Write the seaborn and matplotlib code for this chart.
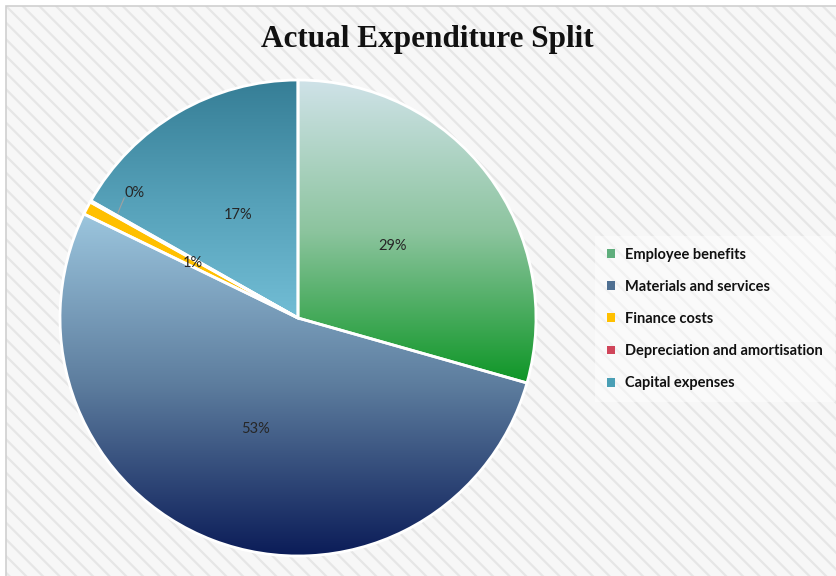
import numpy as np
import matplotlib
matplotlib.use("Agg")
import matplotlib.pyplot as plt
import seaborn as sns
from matplotlib.patches import Rectangle, Patch
from matplotlib.colors import to_rgb

# ---- data ----
categories = ["Employee benefits", "Materials and services", "Finance costs",
              "Depreciation and amortisation", "Capital expenses"]
values = [29.4, 52.8, 0.9, 0.1, 16.8]
title = "Actual Expenditure Split"

# gradient (top, bottom) colours per wedge, and legend colours
grad_top = ["#cfe2e8", "#9cc6de", "#ffc000", "#e04a5a", "#367e96"]
grad_mid = ["#8cc49e", "#5d7d9e", "#ffc000", "#d0455a", "#55a0b8"]
grad_bot = ["#0e9626", "#0b1c58", "#ffc000", "#c0394c", "#72bdd5"]
legend_colors = ["#5fae7c", "#4f7092", "#ffc000", "#d0455a", "#4a9fb5"]

sns.set_theme(style="white")
plt.rcParams["hatch.linewidth"] = 1.6

W, H = 836, 576
fig = plt.figure(figsize=(W / 100, H / 100), dpi=100)
fig.patch.set_facecolor("white")

# hatched chart-area background with thin border
bg = Rectangle((6 / W, -0.01), 1.02, 1 - 6 / H + 0.01, transform=fig.transFigure,
               facecolor="#f7f7f7", edgecolor="#e6e6e6", hatch="\\\\",
               linewidth=0, zorder=-2)
fig.add_artist(bg)
border = Rectangle((6 / W, -0.01), 1.02, 1 - 6 / H + 0.01, transform=fig.transFigure,
                   facecolor="none", edgecolor="#d0d0d0", linewidth=1.2, zorder=-1)
fig.add_artist(border)

cx, cy, R = 298, 318, 238
ax = fig.add_axes([(cx - R) / W, (H - cy - R) / H, 2 * R / W, 2 * R / H])
ax.set_facecolor("none")

wedges, texts, autotexts = ax.pie(
    values, startangle=90, counterclock=False,
    autopct=lambda p: f"{p:.0f}%", pctdistance=0.5,
    wedgeprops=dict(edgecolor="white", linewidth=2),
    textprops=dict(fontsize=10.5, color="#262626", family="Lato"),
)

for i, w in enumerate(wedges):
    ext = w.get_path().get_extents()
    t = np.array(to_rgb(grad_top[i]))
    m = np.array(to_rgb(grad_mid[i]))
    b = np.array(to_rgb(grad_bot[i]))
    s = np.linspace(0, 1, 256)[:, None]
    img = np.where(s < 0.5,
                   t[None, :] * (1 - 2 * s) + m[None, :] * (2 * s),
                   m[None, :] * (2 - 2 * s) + b[None, :] * (2 * s - 1))[:, None, :]
    im = ax.imshow(img, extent=[ext.x0, ext.x1, ext.y0, ext.y1], origin="upper",
                   aspect="auto", interpolation="bicubic", zorder=1.5)
    im.set_clip_path(w)
    w.set_facecolor("none")
    w.set_zorder(2)

for t in autotexts:
    t.set_zorder(3)

# move the 0% label outside with a short leader line
autotexts[3].set_position((-0.685, 0.525))
ax.plot([-0.757, -0.745, -0.73], [0.44, 0.47, 0.505], color="#a0a0a0", lw=0.8, zorder=3)

ax.set_xlim(-1, 1)
ax.set_ylim(-1, 1)
ax.set_aspect("equal")
ax.axis("off")

fig.text(0.511, 1 - 40 / H, title, ha="center", va="center", fontsize=22.5,
         fontweight="bold", family="Liberation Serif", color="#111111")

handles = [Patch(facecolor=c, edgecolor="none") for c in legend_colors]
leg = fig.legend(handles, categories, loc="center left",
                 bbox_to_anchor=(588 / W, 1 - 319 / H), frameon=True,
                 prop=dict(family="Lato", weight="bold", size=10.5),
                 handlelength=0.55, handleheight=0.55, handletextpad=0.7,
                 labelspacing=1.25, borderpad=0.8)
leg.get_frame().set_facecolor("white")
leg.get_frame().set_alpha(0.45)
leg.get_frame().set_edgecolor("none")
leg.get_frame().set_boxstyle("square", pad=0)
for txt in leg.get_texts():
    txt.set_color("#111111")

fig.savefig("out.png", dpi=100)
